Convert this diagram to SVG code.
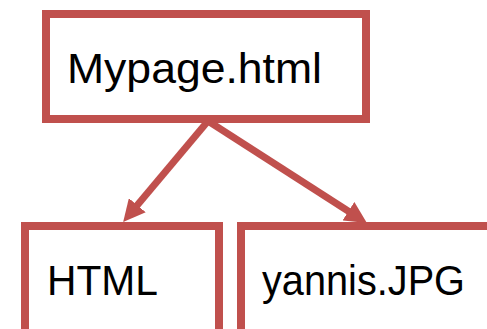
<svg xmlns="http://www.w3.org/2000/svg" width="487" height="329" viewBox="0 0 487 329">
  <style>
    .box { fill: #ffffff; stroke: #C0504D; stroke-width: 8; }
    .label { font-family: "Liberation Sans", Arial, sans-serif; font-size: 43px; fill: #000000; }
    .link { stroke: #C0504D; stroke-width: 7; fill: none; marker-end: url(#head); }
  </style>
  <defs>
    <marker id="head" markerUnits="userSpaceOnUse" markerWidth="22" markerHeight="22" refX="7" refY="11" orient="auto">
      <path d="M0,0 L22,11 L0,22 z" fill="#C0504D"/>
    </marker>
  </defs>
  <rect width="487" height="329" fill="#ffffff"/>

  <g id="connectors">
    <line class="link" x1="208" y1="121" x2="132.8" y2="210.6"/>
    <line class="link" x1="208" y1="121" x2="354.3" y2="215"/>
  </g>

  <g id="mypage">
    <rect class="box" x="46" y="14" width="320" height="105"/>
    <text class="label" x="67" y="83" textLength="255" lengthAdjust="spacingAndGlyphs">Mypage.html</text>
  </g>

  <g id="html">
    <rect class="box" x="25" y="226" width="194" height="120"/>
    <text class="label" x="47" y="295" textLength="111" lengthAdjust="spacingAndGlyphs">HTML</text>
  </g>

  <g id="yannis">
    <rect class="box" x="241" y="226" width="260" height="120"/>
    <text class="label" x="262" y="295" textLength="203" lengthAdjust="spacingAndGlyphs">yannis.JPG</text>
  </g>
</svg>
